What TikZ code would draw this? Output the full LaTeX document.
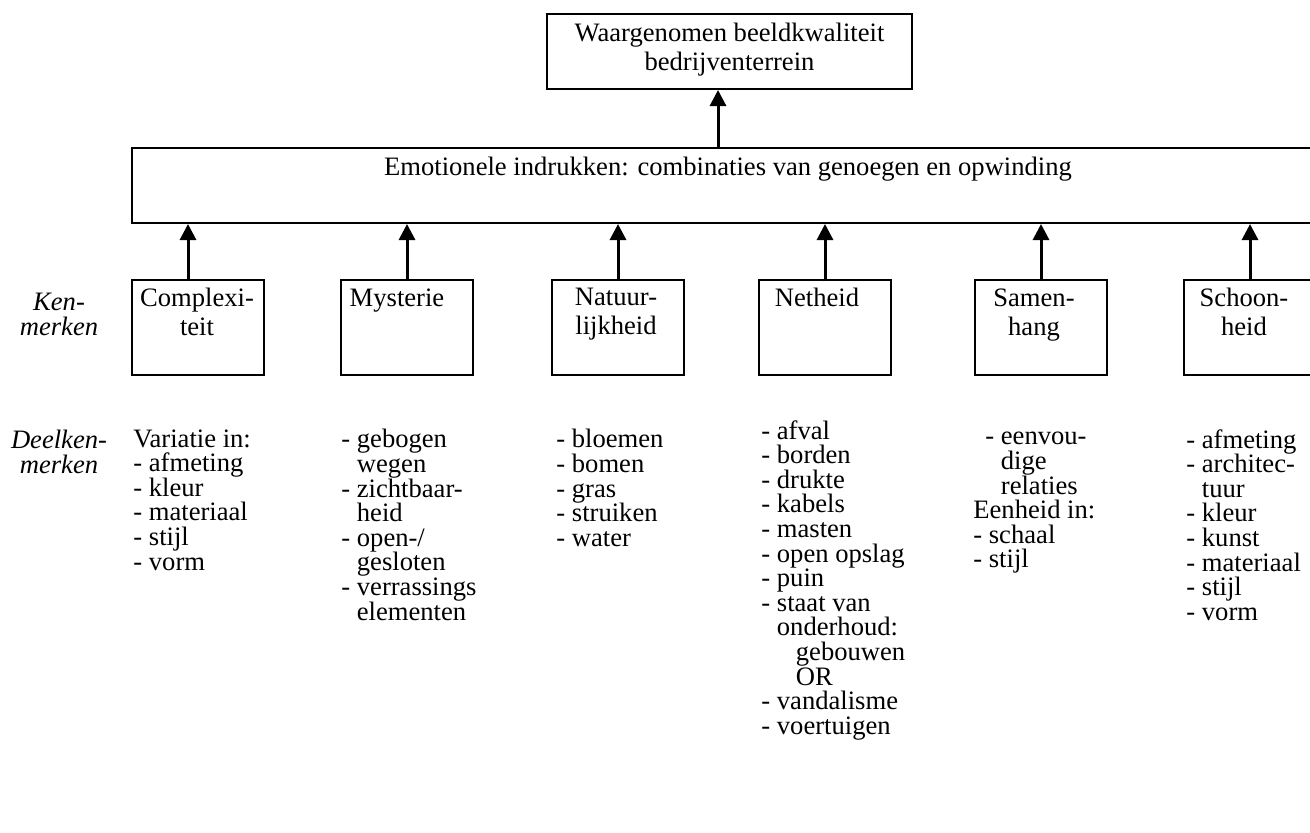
\documentclass[tikz,border=0pt]{standalone}
\usepackage{fontspec}
\setmainfont{Liberation Serif}
\usetikzlibrary{arrows.meta}
\begin{document}
\begin{tikzpicture}[x=0.5pt,y=-0.5pt,
  frame/.style={draw,line width=1pt,inner sep=0pt},
  kbox/.style={frame,minimum width=66pt,minimum height=47.5pt},
  boxtext/.style={inner sep=0pt,align=center,anchor=north,font=\fontsize{13.3}{14.5}\selectfont},
  listtext/.style={inner sep=0pt,align=left,anchor=north west,font=\fontsize{13.3}{12.3}\selectfont},
  sidetext/.style={inner sep=0pt,align=center,anchor=north,font=\fontsize{13.3}{12.3}\selectfont\itshape},
  arr/.style={line width=1.5pt,-{Triangle[length=8pt,width=8pt]}}]
\useasboundingbox (0,0) rectangle (1310,832);
\clip (0,0) rectangle (1310,832);

% top level: perceived quality
\node[frame,minimum width=182.5pt,minimum height=37.5pt] (top) at (729.5,51.5) {};
\node[boxtext] (toptext) at (729.5,23) {Waargenomen beeldkwaliteit\\bedrijventerrein};

% emotional impressions (box runs past the right edge)
\node[frame,minimum width=600pt,minimum height=37.5pt,anchor=north west] (emo) at (131,147) {};
\node[boxtext] (emotext) at (728,157) {Emotionele indrukken: combinaties van genoegen en opwinding};

\draw[arr] (emo.north -| 718,0) -- (top.south -| 718,0);

% characteristics
\node[kbox,anchor=north west] (b1) at (131,279) {};
\node[kbox,anchor=north west] (b2) at (340,279) {};
\node[kbox,anchor=north west] (b3) at (551,279) {};
\node[kbox,anchor=north west] (b4) at (758,279) {};
\node[kbox,anchor=north west] (b5) at (974,279) {};
\node[kbox,anchor=north west] (b6) at (1183,279) {};

\node[boxtext] (t1) at (197,288) {Complexi-\\teit};
\node[boxtext] (t2) at (397,288) {Mysterie};
\node[boxtext] (t3) at (616,288) {Natuur-\\lijkheid};
\node[boxtext] (t4) at (817,288) {Netheid};
\node[boxtext] (t5) at (1034,288) {Samen-\\hang};
\node[boxtext] (t6) at (1244,288) {Schoon-\\heid};

\draw[arr] ([xshift=-5pt]b1.north) -- ([xshift=-5pt]b1.north |- emo.south);
\draw[arr] (b2.north) -- (b2.north |- emo.south);
\draw[arr] (b3.north) -- (b3.north |- emo.south);
\draw[arr] (b4.north) -- (b4.north |- emo.south);
\draw[arr] (b5.north) -- (b5.north |- emo.south);
\draw[arr] (b6.north) -- (b6.north |- emo.south);

% row labels
\node[sidetext] (ken) at (59,293) {Ken-\\merken};
\node[sidetext] (deel) at (59,430) {Deelken-\\merken};

% sub-characteristics
\def\ind{\phantom{- }}
\node[listtext] (l1) at (133,429) {Variatie in:\\- afmeting\\- kleur\\- materiaal\\- stijl\\- vorm};
\node[listtext] (l2) at (341,429) {- gebogen\\\ind wegen\\- zichtbaar-\\\ind heid\\- open-/\\\ind gesloten\\- verrassings\\\ind elementen};
\node[listtext] (l3) at (556,429) {- bloemen\\- bomen\\- gras\\- struiken\\- water};
\node[listtext] (l4) at (761,420) {- afval\\- borden\\- drukte\\- kabels\\- masten\\- open opslag\\- puin\\- staat van\\\ind onderhoud:\\\ind\hspace{9.5pt}gebouwen\\\ind\hspace{9.5pt}OR\\- vandalisme\\- voertuigen};
\node[listtext] (l5) at (973,432) {\hspace{6pt}- eenvou-\\\hspace{6pt}\ind dige\\\hspace{6pt}\ind relaties\\Eenheid in:\\- schaal\\- stijl};
\node[listtext] (l6) at (1186,429) {- afmeting\\- architec-\\\ind tuur\\- kleur\\- kunst\\- materiaal\\- stijl\\- vorm};
\end{tikzpicture}
\end{document}
